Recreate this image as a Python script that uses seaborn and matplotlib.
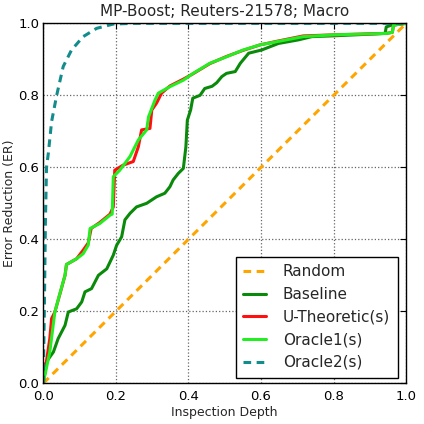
import matplotlib
matplotlib.use("Agg")
import matplotlib.pyplot as plt
import seaborn as sns
import pandas as pd

# ---- data ----
random_x = [0.0, 1.0]
random_y = [0.0, 1.0]

baseline_x = [0, 0.009, 0.028, 0.041, 0.06, 0.069, 0.092, 0.106, 0.115, 0.133, 0.152, 0.175,
              0.193, 0.202, 0.216, 0.225, 0.239, 0.257, 0.285, 0.312, 0.335, 0.349, 0.358,
              0.372, 0.386, 0.393, 0.397, 0.406, 0.412, 0.432, 0.445, 0.465, 0.478, 0.492,
              0.505, 0.529, 0.543, 0.566, 0.602, 0.648, 0.703, 0.74, 0.795, 0.86, 0.942,
              0.945, 0.96, 1.0]
baseline_y = [0, 0.06, 0.087, 0.124, 0.161, 0.198, 0.207, 0.226, 0.254, 0.263, 0.3, 0.318,
              0.356, 0.383, 0.407, 0.454, 0.472, 0.49, 0.5, 0.518, 0.528, 0.546, 0.565,
              0.583, 0.597, 0.657, 0.731, 0.759, 0.792, 0.80, 0.819, 0.825, 0.835, 0.852,
              0.861, 0.866, 0.889, 0.917, 0.926, 0.944, 0.954, 0.963, 0.965, 0.968, 0.972,
              0.99, 0.995, 1.0]

utheo_x = [0, 0.018, 0.023, 0.032, 0.05, 0.06, 0.064, 0.092, 0.11, 0.124, 0.132, 0.156,
           0.184, 0.193, 0.197, 0.22, 0.248, 0.262, 0.271, 0.294, 0.299, 0.312, 0.326,
           0.349, 0.386, 0.413, 0.459, 0.505, 0.551, 0.597, 0.643, 0.716, 0.80, 0.946,
           0.962, 0.965, 1.0]
utheo_y = [0, 0.124, 0.18, 0.198, 0.263, 0.30, 0.33, 0.346, 0.37, 0.39, 0.43, 0.447,
           0.47, 0.49, 0.592, 0.606, 0.616, 0.657, 0.704, 0.708, 0.759, 0.778, 0.806,
           0.826, 0.845, 0.86, 0.888, 0.908, 0.925, 0.94, 0.95, 0.965, 0.968, 0.972,
           0.975, 0.995, 1.0]

oracle1_x = [0, 0.018, 0.032, 0.046, 0.06, 0.064, 0.092, 0.11, 0.124, 0.129, 0.156, 0.184,
             0.19, 0.193, 0.211, 0.239, 0.248, 0.262, 0.285, 0.29, 0.308, 0.317, 0.349,
             0.386, 0.413, 0.459, 0.505, 0.551, 0.597, 0.643, 0.716, 0.80, 0.946, 0.962,
             0.965, 1.0]
oracle1_y = [0, 0.087, 0.198, 0.25, 0.30, 0.33, 0.346, 0.36, 0.384, 0.43, 0.444, 0.467,
             0.47, 0.574, 0.592, 0.63, 0.648, 0.676, 0.704, 0.74, 0.787, 0.806, 0.824,
             0.842, 0.861, 0.889, 0.907, 0.926, 0.94, 0.949, 0.963, 0.968, 0.972, 0.975,
             0.995, 1.0]

oracle2_x = [0, 0.003, 0.006, 0.009, 0.014, 0.023, 0.037, 0.055, 0.078, 0.11, 0.147, 0.193,
             0.25, 1.0]
oracle2_y = [0, 0.2, 0.45, 0.6, 0.639, 0.727, 0.80, 0.88, 0.926, 0.963, 0.986, 0.998,
             1.0, 1.0]

tick_vals = [0, 0.2, 0.4, 0.6, 0.8, 1.0]
tick_labels = ["0.0", "0.2", "0.4", "0.6", "0.8", "1.0"]

series = [
    ("Random", random_x, random_y, "#FFA500", (2.5, 1.8)),
    ("Baseline", baseline_x, baseline_y, "#0A8A0A", None),
    ("U-Theoretic(s)", utheo_x, utheo_y, "#FF1010", None),
    ("Oracle1(s)", oracle1_x, oracle1_y, "#22EE22", None),
    ("Oracle2(s)", oracle2_x, oracle2_y, "#138C8C", (2.5, 1.8)),
]

sns.set_theme(style="white")
plt.rcParams["font.family"] = ["DejaVu Sans"]

fig = plt.figure(figsize=(4.24, 4.24), dpi=100)
ax = fig.add_axes([0.102, 0.096, 0.856, 0.849])

for name, xs, ys, col, dash in series:
    df = pd.DataFrame({"x": xs, "y": ys})
    sns.lineplot(data=df, x="x", y="y", ax=ax, color=col, lw=2.2, sort=False,
                 estimator=None, label=name)
    line = ax.get_lines()[-1]
    if dash is not None:
        line.set_dashes(dash)

ax.set_xlim(0, 1)
ax.set_ylim(0, 1)
ax.set_xticks(tick_vals)
ax.set_yticks(tick_vals)
ax.set_xticklabels(tick_labels)
ax.set_yticklabels(tick_labels)
ax.grid(True, linestyle=":", color="#666666", lw=0.9)
ax.tick_params(direction="in", top=True, right=True, length=4, width=0.8,
               labelsize=9.5, colors="black")
ax.tick_params(axis="y", pad=3)
ax.tick_params(axis="x", pad=5)
for s in ax.spines.values():
    s.set_color("black")
    s.set_linewidth(1.0)
ax.set_xlabel("Inspection Depth", fontsize=9, labelpad=2)
ax.set_ylabel("Error Reduction (ER)", fontsize=9)
ax.yaxis.set_label_coords(-0.075, 0.5)
ax.set_title("MP-Boost; Reuters-21578; Macro", fontsize=11, pad=5)

leg = ax.legend(loc="lower right", bbox_to_anchor=(0.977, 0.016), fontsize=11,
                fancybox=False, frameon=True, edgecolor="black", framealpha=1,
                handlelength=1.5, handletextpad=1.1, borderaxespad=0,
                labelspacing=0.5, borderpad=0.5)
leg.get_frame().set_linewidth(1.0)

fig.savefig("out.png", dpi=100, facecolor="white")
